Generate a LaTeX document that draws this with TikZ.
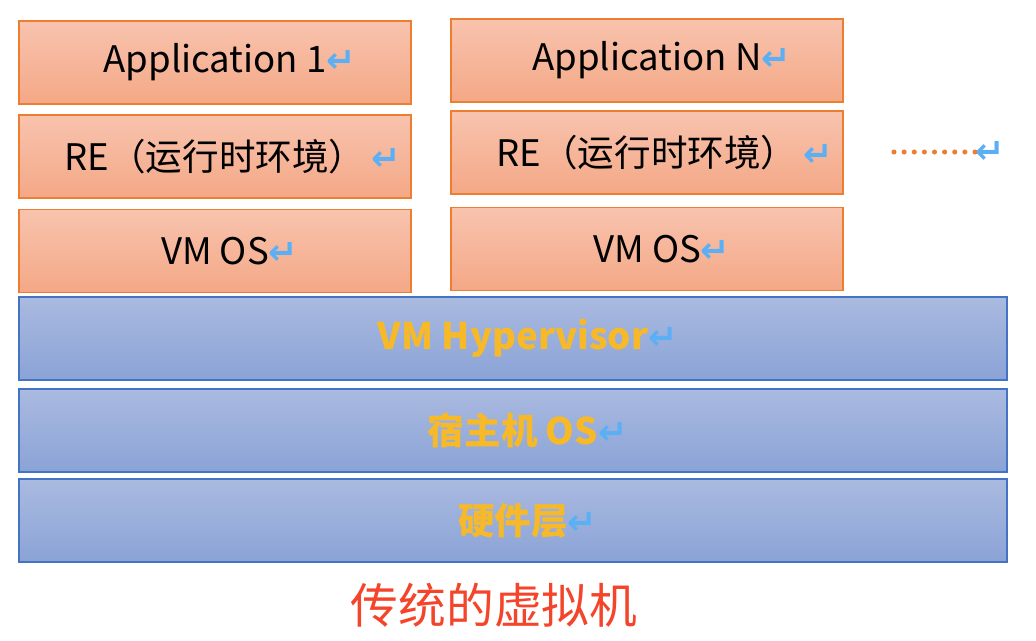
\documentclass[tikz,border=0pt]{standalone}
\usepackage{fontspec}
\setmainfont{Noto Sans CJK SC}
\newfontfamily\symfont{DejaVu Sans}
\usepackage{tikz}
\usetikzlibrary{positioning}
\definecolor{apporange}{HTML}{ED7D31}
\definecolor{apptop}{HTML}{F8C3AE}
\definecolor{appbot}{HTML}{F4A886}
\definecolor{layblue}{HTML}{4472C4}
\definecolor{laytop}{HTML}{AABAE0}
\definecolor{laybot}{HTML}{8AA3D6}
\definecolor{laytext}{HTML}{F7B928}
\definecolor{retblue}{HTML}{5BB0F5}
\definecolor{captred}{HTML}{F4442A}
\newcommand{\ret}{{\symfont\bfseries\fontsize{25}{25}\selectfont\textcolor{retblue}{↵}}}
\newcommand{\tailret}[1][]{\makebox[0pt][l]{#1\ret}}
\tikzset{
    appbox/.style={draw=apporange,line width=1.3pt,top color=apptop,bottom color=appbot,
        minimum width=9.8cm,minimum height=2.075cm,inner sep=0pt,
        font=\fontsize{26}{30}\selectfont},
    laybox/.style={draw=layblue,line width=1.3pt,top color=laytop,bottom color=laybot,
        minimum width=24.7cm,minimum height=2.075cm,inner sep=0pt,
        text=laytext,font=\fontsize{26}{30}\selectfont\bfseries},
}

\begin{document}
\begin{tikzpicture}[x=0.025cm,y=-0.025cm]
  \useasboundingbox (0,0) rectangle (1036,640);

  % 左列
  \node[appbox] (app1) at (215,62.5) {Application 1\tailret};
  \node[appbox] (re1)  at (215,156.5) {RE（运行时环境）\tailret[\,]};
  \node[appbox] (os1)  at (215,251) {VM OS\tailret};

  % 右列
  \node[appbox] (appn) at (647,60.5) {Application N\tailret};
  \node[appbox] (ren)  at (647,152.5) {RE（运行时环境）\tailret[\,]};
  \node[appbox] (osn)  at (647,249) {VM OS\tailret};

  % 省略号
  \coordinate (dotsA) at (894,152);
  \coordinate (dotsB) at (975,152);
  \draw[apporange,line width=3.6pt,line cap=round,dash pattern=on 0pt off 7.2pt]
    (dotsA) -- (dotsB);
  \node[right=0pt of dotsB,inner sep=0pt] (dotsret) {\ret};

  % 底层
  \node[laybox] (hyper) at (513,338.5) {VM Hypervisor\tailret};
  \node[laybox] (host)  at (513,430.5) {宿主机 OS\tailret};
  \node[laybox] (hw)    at (513,520.5) {硬件层\tailret};

  % 标题
  \node[text=captred,font=\fontsize{34}{38}\selectfont] (title) at (494,605) {传统的虚拟机};
\end{tikzpicture}
\end{document}
